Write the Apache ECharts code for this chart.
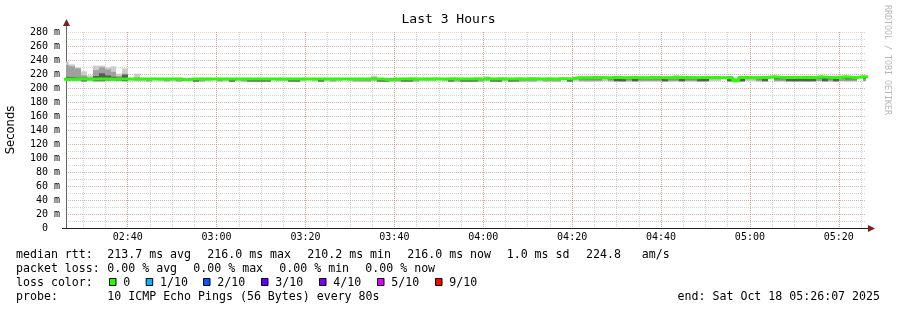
<!DOCTYPE html>
<html><head><meta charset="utf-8">
<script src="https://cdn.jsdelivr.net/npm/echarts@6/dist/echarts.min.js"></script>
<style>html,body{margin:0;padding:0;background:#fff}#c{width:897px;height:310px}</style>
</head><body><div id="c"></div>
<script>
// ---------------- data ----------------
const titleText = 'Last 3 Hours';
const yAxisTitle = 'Seconds';
const startTime = '02:26:07';
const endTime = '05:26:07';
const firstSampleStart = '02:25:28';
const sampleStepSeconds = 80;
const yTickMax = 280, yTickStep = 20, yMinorStep = 10;
const xTickStepMinutes = 20, xMinorStepMinutes = 5;

// median rtt per 80 s sample (ms)
const median = [
212.6,212.6,212.7,212.7,212.6,212.7,212.8,212.7,212.6,212.7,
212.7,212.8,212.7,212.8,212.7,212.9,212.8,212.7,212.8,212.9,
211.6,212.8,212.9,212.8,212.7,212.9,212.8,212.9,213.0,212.8,
212.9,212.8,212.9,212.9,213.0,212.8,212.9,212.9,213.0,212.9,
212.8,212.9,213.0,212.9,212.8,212.9,213.0,212.9,212.8,213.0,
212.9,212.8,212.9,213.0,211.9,212.9,213.0,212.9,213.1,213.0,
212.9,213.0,213.1,212.9,213.0,213.1,213.0,212.9,213.0,213.1,
213.0,213.2,213.0,213.1,212.9,213.0,213.1,213.0,213.2,213.1,
213.0,213.1,213.0,213.2,213.1,213.0,214.6,214.8,214.7,214.9,
215.0,214.8,214.9,215.1,214.8,214.9,215.0,214.8,214.9,215.1,
214.9,214.8,215.0,215.2,214.9,215.0,214.8,214.9,215.0,215.1,
214.9,214.8,215.0,210.3,214.9,215.0,214.8,215.1,214.9,216.0,
215.2,215.0,215.1,214.9,215.0,215.2,215.1,216.0,215.2,215.0,
215.1,216.0,215.2,215.0,216.0,216.0];

// smoke: outer / middle / inner ping spread per sample (ms)
const smokeOuterLow = [
209.8,210.0,210.2,209.2,210.2,209.3,209.4,209.8,210.0,209.5,
209.3,210.8,209.6,209.4,209.1,211.0,209.5,209.2,209.4,209.0,
209.8,209.4,208.9,209.1,209.5,211.1,209.2,209.4,208.8,209.5,
209.1,208.9,208.8,208.9,209.0,211.0,209.4,209.5,208.9,208.8,
209.4,211.2,209.5,208.9,209.4,209.1,209.5,211.0,209.4,209.2,
209.1,209.0,209.4,208.9,208.9,209.1,209.2,208.8,208.9,209.1,
209.4,209.5,209.4,211.1,209.5,208.9,209.1,208.9,208.8,208.9,
209.1,209.4,208.9,208.8,209.5,208.9,209.0,209.1,209.2,209.1,
209.4,209.1,209.2,209.1,211.0,208.9,209.7,209.4,209.3,209.4,
209.5,209.7,209.4,209.3,209.2,209.4,209.3,209.4,209.5,209.4,
209.4,209.2,209.4,209.5,209.3,209.4,209.4,209.2,209.3,209.7,
209.8,213.0,209.3,209.0,209.2,209.7,209.8,209.4,209.3,213.8,
209.4,209.5,209.3,209.2,209.3,209.2,209.3,209.6,209.3,209.4,
209.2,209.6,209.4,209.5,213.8,209.6];
const smokeOuterHigh = [
237.5,233.8,229.5,223.8,218.0,232.0,232.0,229.5,231.0,220.5,
228.0,214.5,220.5,214.6,214.5,214.7,214.6,214.5,214.6,214.7,
213.4,214.6,214.5,214.7,214.6,214.5,214.6,214.7,214.6,214.5,
214.6,214.7,214.5,214.6,214.7,214.5,214.6,214.6,214.7,214.5,
214.6,214.5,214.7,214.6,214.5,214.6,214.7,214.5,214.6,214.6,
214.7,214.5,217.6,214.6,213.6,214.5,214.6,214.7,214.6,214.5,
214.6,214.7,214.6,214.5,214.6,214.7,214.6,214.5,214.6,214.7,
214.6,216.6,214.5,214.6,214.7,214.6,214.5,214.6,214.7,214.6,
214.5,214.6,214.7,214.6,214.5,214.6,216.4,216.6,216.5,217.6,
216.7,216.6,216.5,217.8,216.6,216.5,216.7,216.6,216.5,217.6,
216.6,216.5,216.7,218.3,216.6,216.5,216.6,216.7,216.6,216.5,
216.6,216.5,216.7,215.0,216.6,216.5,216.6,216.7,216.6,217.5,
216.8,216.6,216.7,216.5,216.6,216.8,216.7,217.6,216.8,216.6,
216.7,217.4,216.8,216.6,217.4,217.3];
const smokeMidLow = [
210.5,210.6,210.8,209.4,211.0,209.5,209.6,210.4,210.6,210.2,
209.6,211.3,210.8,211.3,209.4,211.5,211.2,209.5,211.3,209.3,
210.3,211.3,209.1,209.4,211.2,211.6,209.5,211.3,209.0,211.2,
209.4,209.1,209.0,209.1,209.2,211.5,211.3,211.2,209.1,209.0,
211.3,211.6,211.2,209.1,211.3,209.4,211.2,211.5,211.3,209.5,
209.4,209.3,211.3,209.1,209.1,209.4,209.5,209.0,209.1,209.4,
211.3,211.2,211.3,211.6,211.2,209.1,209.4,209.1,209.0,209.1,
209.4,211.3,209.1,209.0,211.2,209.1,209.2,209.4,209.5,209.4,
211.3,209.4,209.5,209.4,211.5,209.1,212.3,209.7,209.6,209.7,
209.8,212.4,209.7,209.5,209.4,209.7,209.5,209.7,209.8,209.7,
209.7,209.4,209.7,209.8,209.5,209.7,209.7,209.4,209.5,212.3,
212.4,213.5,209.5,209.5,209.4,212.3,212.4,209.7,209.5,214.2,
209.7,209.8,209.5,209.4,209.5,209.4,209.5,210.0,209.5,209.7,
209.4,210.0,209.7,209.8,214.2,210.0];
const smokeMidHigh = [
233.0,231.0,228.0,218.0,215.0,225.5,229.5,226.5,223.0,217.0,
220.5,214.0,215.0,214.1,214.0,214.2,214.1,214.0,214.1,214.2,
213.0,214.1,214.0,214.2,214.1,214.0,214.1,214.2,214.1,214.0,
214.1,214.2,214.0,214.1,214.2,214.0,214.1,214.1,214.2,214.0,
214.1,214.0,214.2,214.1,214.0,214.1,214.2,214.0,214.1,214.1,
214.2,214.0,215.5,214.1,213.2,214.0,214.1,214.2,214.1,214.0,
214.1,214.2,214.1,214.0,214.1,214.2,214.1,214.0,214.1,214.2,
214.1,215.0,214.0,214.1,214.2,214.1,214.0,214.1,214.2,214.1,
214.0,214.1,214.2,214.1,214.0,214.1,215.8,216.0,215.9,216.1,
216.1,216.0,215.9,216.2,216.0,215.9,216.1,216.0,215.9,216.2,
216.0,215.9,216.1,216.8,216.0,215.9,216.0,216.1,216.0,215.9,
216.0,215.9,216.1,213.0,216.0,215.9,216.0,216.1,216.0,217.0,
216.2,216.0,216.1,215.9,216.0,216.2,216.1,217.0,216.2,216.0,
216.1,216.9,216.2,216.0,217.0,216.8];
const smokeInnerLow = [
211.2,211.5,211.6,209.6,211.8,209.8,209.8,211.0,211.4,211.0,
209.9,211.8,211.5,211.9,211.4,212.0,211.8,211.5,211.9,211.3,
210.8,211.9,209.3,211.4,211.8,212.1,211.5,211.9,209.2,211.8,
211.4,209.3,209.2,209.3,209.4,212.0,211.9,211.8,209.3,209.2,
211.9,212.1,211.8,209.3,211.9,211.4,211.8,212.0,211.9,211.5,
211.4,211.3,211.9,209.3,209.3,211.4,211.5,209.2,209.3,211.4,
211.9,211.8,211.9,212.1,211.8,209.3,211.4,209.3,209.2,209.3,
211.4,211.9,209.3,209.2,211.8,209.3,209.4,211.4,211.5,211.4,
211.9,211.4,211.5,211.4,212.0,209.3,213.2,212.4,212.3,212.4,
212.5,213.3,212.4,209.7,209.6,212.4,209.7,212.4,212.5,212.4,
212.4,209.6,212.4,212.5,209.7,212.4,212.4,209.6,209.7,213.2,
213.3,214.0,209.7,210.0,209.6,213.2,213.3,212.4,209.7,214.6,
212.4,212.5,209.7,209.6,209.7,209.6,209.7,213.5,209.7,212.4,
209.6,213.5,212.4,212.5,214.6,213.2];
const smokeInnerHigh = [
216.0,215.5,215.0,215.0,213.8,217.0,221.0,218.0,216.0,215.0,
219.0,213.6,214.0,213.6,213.5,213.7,213.6,213.5,213.6,213.7,
212.6,213.6,213.5,213.7,213.6,213.5,213.6,213.7,213.6,213.5,
213.6,213.7,213.5,213.6,213.7,213.5,213.6,213.6,213.7,213.5,
213.6,213.5,213.7,213.6,213.5,213.6,213.7,213.5,213.6,213.6,
213.7,213.5,214.0,213.6,212.8,213.5,213.6,213.7,213.6,213.5,
213.6,213.7,213.6,213.5,213.6,213.7,213.6,213.5,213.6,213.7,
213.6,214.0,213.5,213.6,213.7,213.6,213.5,213.6,213.7,213.6,
213.5,213.6,213.7,213.6,213.5,213.6,215.3,215.5,215.4,215.6,
215.6,215.5,215.4,215.7,215.5,215.4,215.6,215.5,215.4,215.7,
215.5,215.4,215.6,215.8,215.5,215.4,215.5,215.6,215.5,215.4,
215.5,215.4,215.6,212.0,215.5,215.4,215.5,215.6,215.5,216.6,
215.7,215.5,215.6,215.4,215.5,215.7,215.6,216.5,215.7,215.5,
215.6,216.4,215.7,215.5,216.6,216.4];

// legend texts
const rttLabel = 'median rtt:';
const rttStats = ['213.7 ms avg', '216.0 ms max', '210.2 ms min', '216.0 ms now', '1.0 ms sd', '224.8   am/s'];
const lossLabel = 'packet loss:';
const lossStats = ['0.00 % avg', '0.00 % max', '0.00 % min', '0.00 % now'];
const lossColorLabel = 'loss color:';
const lossLabels = ['0', '1/10', '2/10', '3/10', '4/10', '5/10', '9/10'];
const lossColors = ['#26ff00', '#00b8ff', '#0059ff', '#5e00ff', '#7e00ff', '#dd00ff', '#ff0000'];
const probeLabel = 'probe:';
const probeText = '10 ICMP Echo Pings (56 Bytes) every 80s';
const endText = 'end: Sat Oct 18 05:26:07 2025';
const watermark = 'RRDTOOL / TOBI OETIKER';

// ---------------- layout / style ----------------
const MONO = '"DejaVu Sans Mono", monospace';
const legendFont = '11.6px ' + MONO;
const rttX = [107.3, 207.3, 307.3, 407.3, 506.7, 586];
const lossX = [107.3, 193.3, 279.3, 365.3];
const boxX = [109, 145.7, 203, 261, 319, 377, 435];
const rowY = [255, 268.5, 282.5, 296.5];
const GRID_MINOR = 'rgba(140,140,140,0.38)';
const GRID_MAJOR = 'rgba(230,90,90,0.3)';
const ARROW = '#7f1f1f';

function hm(s) { const p = s.split(':').map(Number); return p[0] * 60 + p[1] + (p[2] || 0) / 60; }
const xMin = hm(startTime), xMax = hm(endTime);
const t0 = hm(firstSampleStart), step = sampleStepSeconds / 60;
function pts(vals) {
  const out = vals.map((v, k) => [t0 + k * step, v]);
  out.push([t0 + vals.length * step, vals[vals.length - 1]]);
  return out;
}
function bandData(lo, hi) {
  return lo.map((l, k) => [t0 + k * step, t0 + (k + 1) * step, l, hi[k]]);
}
function band(lo, hi, color) {
  return {
    type: 'custom', xAxisIndex: 0, yAxisIndex: 0, silent: true, z: 2, clip: true,
    data: bandData(lo, hi),
    encode: { x: [0, 1], y: [2, 3] },
    renderItem: function (params, api) {
      const a = api.coord([api.value(0), api.value(3)]);
      const b = api.coord([api.value(1), api.value(2)]);
      const x0 = Math.round(a[0]), x1 = Math.round(b[0]);
      const cs = params.coordSys;
      const shape = echarts.graphic.clipRectByRect(
        { x: x0, y: a[1], width: x1 - x0, height: b[1] - a[1] },
        { x: cs.x, y: cs.y, width: cs.width, height: cs.height });
      return shape && { type: 'rect', shape: shape, style: { fill: color } };
    }
  };
}
const pad = n => String(n).padStart(2, '0');

const graphics = [];
function txt(x, y, s, align) {
  graphics.push({ type: 'text', x: x, y: y, silent: true,
    style: { text: s, font: legendFont, fill: '#000', textAlign: align || 'left', align: align || 'left',
      textVerticalAlign: 'middle', verticalAlign: 'middle' } });
}
txt(16, rowY[0], rttLabel);
rttStats.forEach((s, i) => txt(rttX[i], rowY[0], s));
txt(16, rowY[1], lossLabel);
lossStats.forEach((s, i) => txt(lossX[i], rowY[1], s));
txt(16, rowY[2], lossColorLabel);
lossLabels.forEach((s, i) => {
  graphics.push({ type: 'rect', silent: true, shape: { x: boxX[i] + 0.5, y: rowY[2] - 4, width: 6.5, height: 7 },
    style: { fill: lossColors[i], stroke: '#000', lineWidth: 1 } });
  txt(boxX[i] + 14.3, rowY[2], s);
});
txt(16, rowY[3], probeLabel);
txt(107.3, rowY[3], probeText);
txt(880, rowY[3], endText, 'right');
// watermark
graphics.push({ type: 'text', x: 887, y: 60, rotation: -Math.PI / 2, silent: true,
  style: { text: watermark, font: '8.3px ' + MONO, fill: '#b8b8b8', textAlign: 'center', align: 'center',
    textVerticalAlign: 'middle', verticalAlign: 'middle' } });
// axis arrows / extensions
graphics.push({ type: 'line', silent: true, shape: { x1: 66.5, y1: 32, x2: 66.5, y2: 25 }, style: { stroke: '#666', lineWidth: 1 } });
graphics.push({ type: 'polygon', silent: true, shape: { points: [[63, 26], [70, 26], [66.5, 19]] }, style: { fill: ARROW } });
graphics.push({ type: 'line', silent: true, shape: { x1: 62, y1: 228.5, x2: 67, y2: 228.5 }, style: { stroke: '#1f1f1f', lineWidth: 1 } });
graphics.push({ type: 'line', silent: true, shape: { x1: 865, y1: 228.5, x2: 869, y2: 228.5 }, style: { stroke: '#1f1f1f', lineWidth: 1 } });
graphics.push({ type: 'polygon', silent: true, shape: { points: [[868, 225], [868, 232], [875, 228.5]] }, style: { fill: ARROW } });

const xLabelFmt = v => { const m = Math.round(v); if (Math.abs(v - m) > 1e-6 || m % xTickStepMinutes) return '';
  return pad(Math.floor(m / 60)) + ':' + pad(m % 60); };

const chart = echarts.init(document.getElementById('c'), null, { renderer: 'canvas' });
chart.setOption({
  animation: false,
  backgroundColor: '#fff',
  title: { text: titleText, left: 'center', top: 13, padding: 0,
    textStyle: { fontFamily: MONO, fontSize: 13, fontWeight: 'normal', color: '#000' } },
  grid: { left: 66, top: 32, width: 800, height: 196, containLabel: false, outerBoundsMode: 'none' },
  xAxis: [
    { type: 'value', position: 'bottom', min: xMin, max: xMax, splitNumber: 9,
      minInterval: xTickStepMinutes, maxInterval: xTickStepMinutes, z: 1,
      axisLine: { show: true, onZero: false, lineStyle: { color: '#1f1f1f', width: 1 } },
      axisTick: { show: false },
      axisLabel: { margin: 4, fontFamily: MONO, fontSize: 10, color: '#000', showMinLabel: false, showMaxLabel: false,
        formatter: xLabelFmt },
      splitLine: { show: true, showMinLine: false, showMaxLine: false, lineStyle: { color: 'rgba(230,90,90,0.45)', width: 1, type: [1, 1] } } },
    { type: 'value', position: 'bottom', min: xMin, max: xMax, splitNumber: 36,
      minInterval: xMinorStepMinutes, maxInterval: xMinorStepMinutes, z: 0,
      axisLine: { show: false }, axisTick: { show: false }, axisLabel: { show: false },
      splitLine: { show: true, showMinLine: false, showMaxLine: false,
        lineStyle: { color: GRID_MINOR, width: 1, type: [1, 1] } } }
  ],
  yAxis: [
    { type: 'value', position: 'left', min: 0, max: yTickMax, interval: yTickStep, z: 1,
      name: yAxisTitle, nameLocation: 'middle', nameGap: 49,
      nameTextStyle: { fontFamily: '"DejaVu Sans", sans-serif', fontSize: 11.6, color: '#000' },
      axisLine: { show: true, lineStyle: { color: '#666', width: 1 } },
      axisTick: { show: false },
      axisLabel: { margin: 6, fontFamily: MONO, fontSize: 10, color: '#000',
        formatter: v => v === 0 ? '0  ' : v + ' m' },
      splitLine: { show: true, showMinLine: false, lineStyle: { color: GRID_MAJOR, width: 1, type: [1, 1] } } },
    { type: 'value', position: 'left', min: 0, max: yTickMax, interval: yMinorStep, z: 0,
      axisLine: { show: false }, axisTick: { show: false }, axisLabel: { show: false },
      splitLine: { show: true, showMinLine: false, showMaxLine: false,
        lineStyle: { color: GRID_MINOR, width: 1, type: [1, 1] } } }
  ],
  series: [
    band(smokeOuterLow, smokeOuterHigh, '#cccccc'),
    band(smokeMidLow, smokeMidHigh, '#a0a0a0'),
    band(smokeInnerLow, smokeInnerHigh, '#5a5a5a'),
    { type: 'line', xAxisIndex: 0, yAxisIndex: 0, step: 'end', symbol: 'none', silent: true, data: pts(median),
      lineStyle: { color: '#26ff00', width: 3 }, z: 3 }
  ],
  graphic: { elements: graphics }
});
</script></body></html>
